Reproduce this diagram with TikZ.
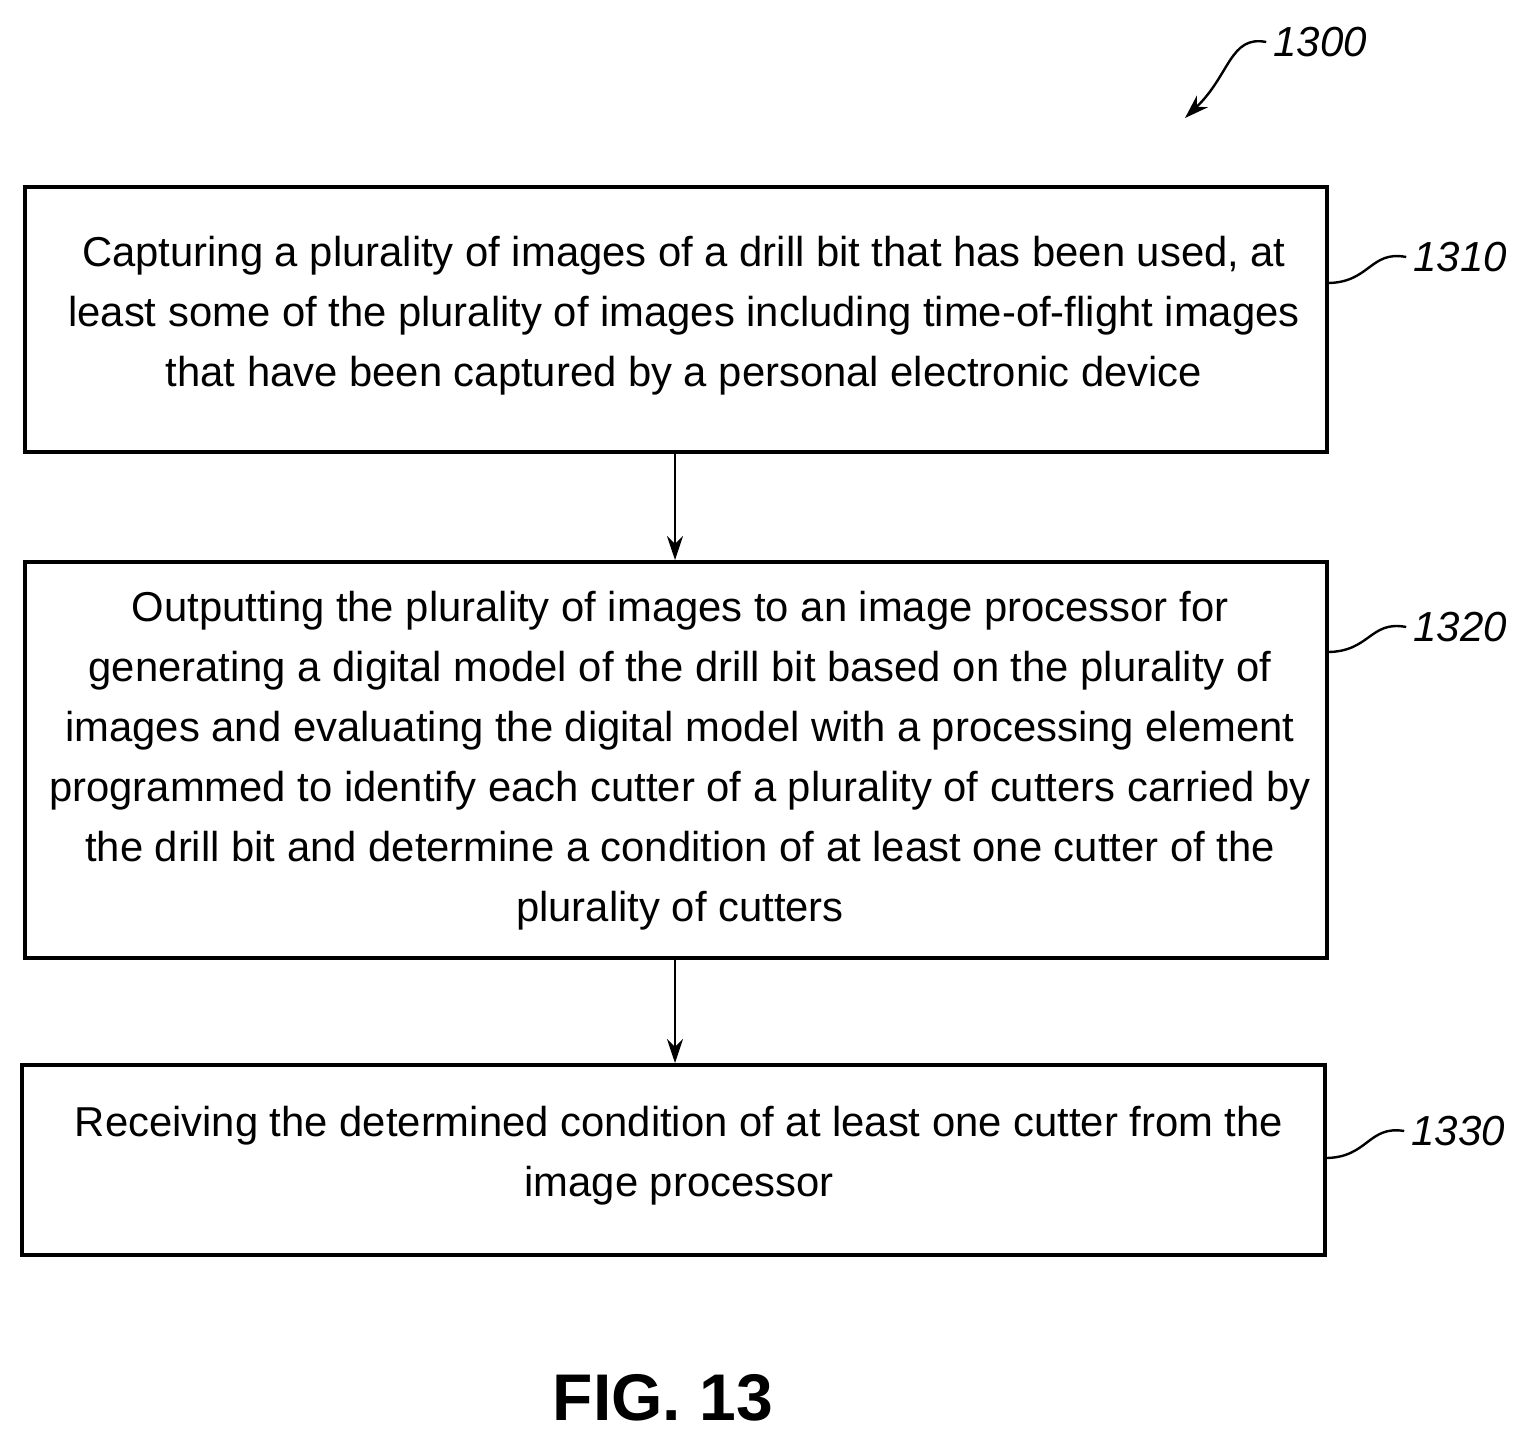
\documentclass[tikz,border=0pt]{standalone}
\usepackage{fontspec}
\setmainfont{Liberation Sans}
\usetikzlibrary{arrows.meta}
\begin{document}
\begin{tikzpicture}[x=0.5pt,y=-0.5pt,
  box/.style={draw,line width=1.6pt,inner sep=0pt},
  txt/.style={align=center,font=\fontsize{20.9}{30}\selectfont},
  lab/.style={font=\fontsize{21}{22}\selectfont\itshape},
  arr/.style={line width=1.3pt,-{Stealth[length=12pt,width=8pt]}},
  lead/.style={line width=1.2pt}]
\useasboundingbox (0,0) rectangle (1525,1442);
\draw[box] (25,187) rectangle (1327,452) coordinate (b1);
\node[txt] (t1) at (684,316) {Capturing a plurality of images of a drill bit that has been used, at\\least some of the plurality of images including time-of-flight images\\that have been captured by a personal electronic device};
\draw[box] (25,562) rectangle (1327,958);
\node[txt] (t2) at (680,761) {Outputting the plurality of images to an image processor for\\generating a digital model of the drill bit based on the plurality of\\images and evaluating the digital model with a processing element\\programmed to identify each cutter of a plurality of cutters carried by\\the drill bit and determine a condition of at least one cutter of the\\plurality of cutters};
\draw[box] (22,1065) rectangle (1325,1255);
\node[txt] (t3) at (679,1156) {Receiving the determined condition of at least one cutter from the\\image processor};
\coordinate (a1) at (675,452); \coordinate (a2) at (675,560);
\coordinate (a3) at (675,958); \coordinate (a4) at (675,1063);
\draw[arr] (a1) -- (a2);
\draw[arr] (a3) -- (a4);
\node[lab] (l1) at (1460,257) {1310};
\node[lab] (l2) at (1460,627) {1320};
\node[lab] (l3) at (1458,1131) {1330};
\node[lab] (l0) at (1320,42) {1300};
\coordinate (e1) at (1327,283); \coordinate (e2) at (1327,652); \coordinate (e3) at (1325,1158);
\draw[lead] (e1) .. controls (1370,283) and (1370,250) .. (l1.west);
\draw[lead] (e2) .. controls (1370,652) and (1370,620) .. (l2.west);
\draw[lead] (e3) .. controls (1368,1158) and (1368,1125) .. (l3.west);
\coordinate (h0) at (1185,118);
\draw[lead,-{Stealth[length=12pt,width=8pt]}] (l0.west) .. controls (1230,35) and (1230,75) .. (h0);
\node[font=\fontsize{33}{36}\selectfont\bfseries] (fig) at (663,1398) {FIG. 13};
\end{tikzpicture}
\end{document}
